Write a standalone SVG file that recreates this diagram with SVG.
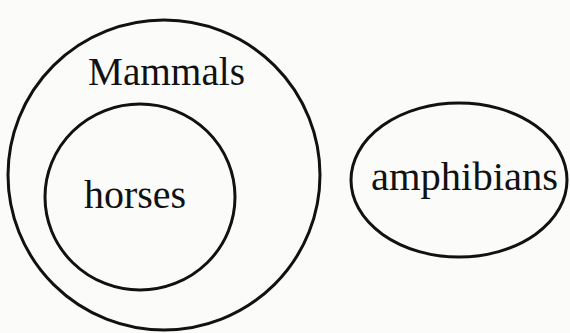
<svg xmlns="http://www.w3.org/2000/svg" width="570" height="333" viewBox="0 0 570 333">
<style>
.set{fill:none;stroke:#111;stroke-width:3}
.lbl{font-family:"Liberation Serif","Times New Roman",serif;font-size:40px;fill:#111}
</style>
<rect width="570" height="333" fill="#fbfbfa"/>
<g id="mammals">
<ellipse class="set" cx="164" cy="175" rx="156" ry="155"/>
<text class="lbl" x="88" y="85" textLength="157" lengthAdjust="spacingAndGlyphs">Mammals</text>
</g>
<g id="horses">
<ellipse class="set" cx="140" cy="197" rx="95" ry="93"/>
<text class="lbl" x="84" y="208" textLength="102" lengthAdjust="spacingAndGlyphs">horses</text>
</g>
<g id="amphibians">
<ellipse class="set" cx="459" cy="180" rx="108" ry="77"/>
<text class="lbl" x="371" y="190" textLength="187" lengthAdjust="spacingAndGlyphs">amphibians</text>
</g>
<g id="connectors"/>
</svg>
